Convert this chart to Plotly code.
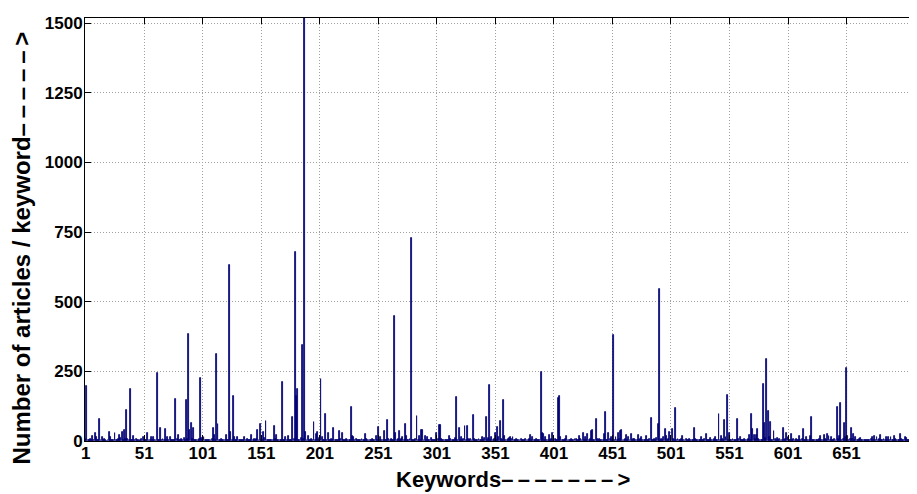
import plotly.graph_objects as go

# Number of articles per keyword (keywords 1..706)
counts_001_100 = [
    8, 197, 4, 2, 6, 3, 18, 5, 30, 13, 3, 2, 79, 4, 15, 3, 8, 2, 1, 4, 33, 15, 2, 3, 5,
    30, 4, 3, 6, 21, 10, 31, 5, 40, 8, 111, 6, 4, 185, 5, 3, 18, 4, 8, 2, 3, 1, 4, 8, 15,
    3, 2, 5, 30, 4, 2, 13, 3, 13, 4, 2, 245, 5, 3, 48, 4, 6, 2, 42, 3, 15, 4, 13, 2, 3,
    5, 2, 150, 6, 21, 3, 2, 8, 4, 12, 3, 147, 6, 384, 40, 63, 8, 48, 4, 3, 5, 2, 6, 226, 10,
]
counts_101_200 = [
    4, 13, 3, 2, 5, 3, 2, 4, 6, 45, 20, 3, 311, 61, 4, 5, 8, 3, 5, 2, 20, 4, 3, 630, 32,
    5, 161, 13, 4, 3, 13, 2, 4, 3, 5, 2, 13, 3, 6, 4, 2, 3, 20, 5, 8, 3, 6, 40, 5, 62,
    4, 2, 33, 10, 71, 4, 3, 2, 5, 3, 4, 53, 6, 20, 3, 4, 2, 5, 213, 4, 3, 13, 3, 18, 5,
    2, 4, 85, 6, 680, 163, 185, 4, 3, 10, 344, 8, 1518, 33, 4, 18, 3, 2, 8, 4, 68, 5, 24, 32, 3,
]
counts_201_300 = [
    10, 222, 13, 4, 3, 97, 5, 27, 4, 3, 6, 2, 47, 5, 3, 2, 4, 37, 6, 27, 3, 2, 5, 6, 3,
    4, 2, 123, 18, 13, 4, 6, 3, 5, 2, 4, 8, 3, 5, 24, 6, 3, 4, 2, 5, 6, 3, 4, 18, 5,
    49, 4, 15, 3, 2, 37, 5, 4, 75, 6, 3, 8, 4, 5, 450, 27, 4, 8, 36, 3, 6, 13, 4, 60, 18,
    5, 3, 8, 730, 5, 2, 4, 6, 90, 3, 18, 4, 41, 38, 5, 18, 3, 13, 4, 2, 10, 3, 5, 2, 4,
]
counts_301_400 = [
    30, 8, 59, 59, 6, 4, 3, 5, 2, 4, 3, 18, 6, 3, 4, 5, 10, 159, 5, 48, 4, 13, 3, 6, 54,
    5, 53, 8, 4, 8, 3, 95, 6, 4, 3, 5, 8, 2, 4, 13, 3, 10, 85, 5, 12, 200, 4, 13, 3, 6,
    30, 5, 51, 15, 71, 6, 4, 147, 18, 5, 3, 8, 10, 15, 6, 13, 4, 3, 8, 2, 5, 3, 6, 4, 2,
    5, 8, 3, 4, 6, 21, 5, 13, 3, 4, 8, 2, 5, 4, 249, 30, 24, 3, 13, 4, 5, 21, 3, 6, 27,
]
counts_401_500 = [
    4, 8, 3, 5, 154, 161, 13, 4, 3, 5, 6, 18, 4, 2, 3, 8, 5, 3, 6, 8, 3, 4, 18, 6, 3,
    27, 4, 13, 5, 24, 3, 6, 36, 40, 4, 5, 78, 6, 3, 8, 4, 5, 3, 25, 104, 4, 3, 30, 6, 13,
    4, 381, 5, 13, 4, 30, 6, 36, 40, 5, 3, 8, 21, 4, 13, 5, 25, 3, 6, 8, 4, 5, 21, 3, 6,
    13, 4, 3, 5, 18, 4, 3, 6, 83, 4, 5, 8, 3, 10, 61, 545, 4, 8, 3, 13, 43, 18, 5, 8, 31,
]
counts_501_600 = [
    4, 42, 6, 3, 118, 5, 8, 3, 4, 6, 18, 3, 5, 8, 4, 2, 8, 3, 4, 5, 48, 6, 3, 4, 2,
    5, 15, 4, 3, 6, 25, 4, 3, 5, 10, 3, 4, 6, 13, 3, 5, 96, 4, 18, 6, 3, 75, 13, 166, 5,
    30, 3, 4, 6, 2, 5, 3, 80, 6, 13, 4, 3, 5, 8, 4, 3, 6, 20, 5, 96, 44, 21, 8, 21, 44,
    6, 3, 4, 5, 206, 63, 12, 295, 109, 13, 69, 5, 3, 36, 6, 4, 10, 3, 8, 4, 5, 48, 3, 6, 30,
]
counts_601_706 = [
    13, 4, 5, 25, 3, 6, 4, 8, 3, 5, 18, 4, 6, 42, 5, 3, 13, 4, 5, 18, 86, 4, 3, 5, 2,
    4, 3, 6, 18, 4, 5, 21, 8, 3, 24, 18, 4, 13, 5, 3, 8, 4, 121, 6, 18, 136, 5, 8, 66, 13,
    261, 18, 5, 8, 47, 6, 25, 4, 13, 3, 5, 8, 10, 4, 3, 5, 2, 4, 3, 5, 2, 6, 13, 4, 18,
    5, 13, 3, 6, 21, 5, 3, 8, 4, 13, 5, 13, 3, 13, 4, 5, 18, 6, 3, 4, 5, 26, 8, 3, 4,
    13, 10, 4, 3, 2, 308,
]

counts = (counts_001_100 + counts_101_200 + counts_201_300 + counts_301_400
          + counts_401_500 + counts_501_600 + counts_601_706)
keywords = list(range(1, len(counts) + 1))

x_tick_values = [1, 51, 101, 151, 201, 251, 301, 351, 401, 451, 501, 551, 601, 651]
x_tick_labels = [str(v) for v in x_tick_values]
y_tick_values = [0, 250, 500, 750, 1000, 1250, 1500]
y_tick_labels = [str(v) for v in y_tick_values]

DASH = "\u2013\u2009"
x_title = "Keywords" + DASH * 7 + ">"
y_title = "Number of articles / keyword" + DASH * 5 + ">"

FONT = "Liberation Sans, Arial, Helvetica, sans-serif"

fig = go.Figure()
fig.add_trace(go.Bar(
    x=keywords,
    y=counts,
    width=0.8,
    marker=dict(color="#00008B", line=dict(color="#000070", width=0.8)),
    showlegend=False,
))

# the page body has an 8px margin; the figure is sized/offset to compensate
fig.update_layout(
    width=909,
    height=486,
    margin=dict(l=77, r=0, t=10, b=53),
    paper_bgcolor="white",
    plot_bgcolor="white",
    font=dict(family=FONT, size=17, color="black"),
    bargap=0,
)

fig.update_xaxes(
    range=[0.35, 711.2],
    automargin=False,
    tickmode="array",
    tickvals=x_tick_values,
    ticktext=x_tick_labels,
    ticks="inside",
    ticklen=6,
    tickcolor="black",
    tickwidth=1,
    ticklabelstandoff=-3,
    showline=True,
    linecolor="black",
    linewidth=1,
    mirror="ticks",
    showgrid=True,
    gridcolor="#a0a0a0",
    griddash="1px,2px",
    gridwidth=1,
    zeroline=False,
    tickfont=dict(family=FONT, size=17, color="black", weight="bold"),
)

fig.update_yaxes(
    range=[0, 1518],
    automargin=False,
    tickmode="array",
    tickvals=y_tick_values,
    ticktext=y_tick_labels,
    ticks="inside",
    ticklen=6,
    tickcolor="black",
    tickwidth=1,
    ticklabelstandoff=-2,
    showline=True,
    linecolor="black",
    linewidth=1,
    mirror=False,
    showgrid=True,
    gridcolor="#a0a0a0",
    griddash="1px,2px",
    gridwidth=1,
    zeroline=False,
    tickfont=dict(family=FONT, size=17, color="black", weight="bold"),
)

# axis titles (placed like the reference's labels)
fig.add_annotation(
    text="<b>" + x_title + "</b>",
    xref="paper", yref="paper",
    x=0.5144, y=-0.092,
    xanchor="center", yanchor="middle",
    showarrow=False,
    font=dict(family=FONT, size=22, color="black"),
)
fig.add_annotation(
    text="<b>" + y_title + "</b>",
    xref="paper", yref="paper",
    x=-0.0757, y=0.455,
    xanchor="center", yanchor="middle",
    textangle=-90,
    showarrow=False,
    font=dict(family=FONT, size=24, color="black"),
)

fig.write_html("out.html")
